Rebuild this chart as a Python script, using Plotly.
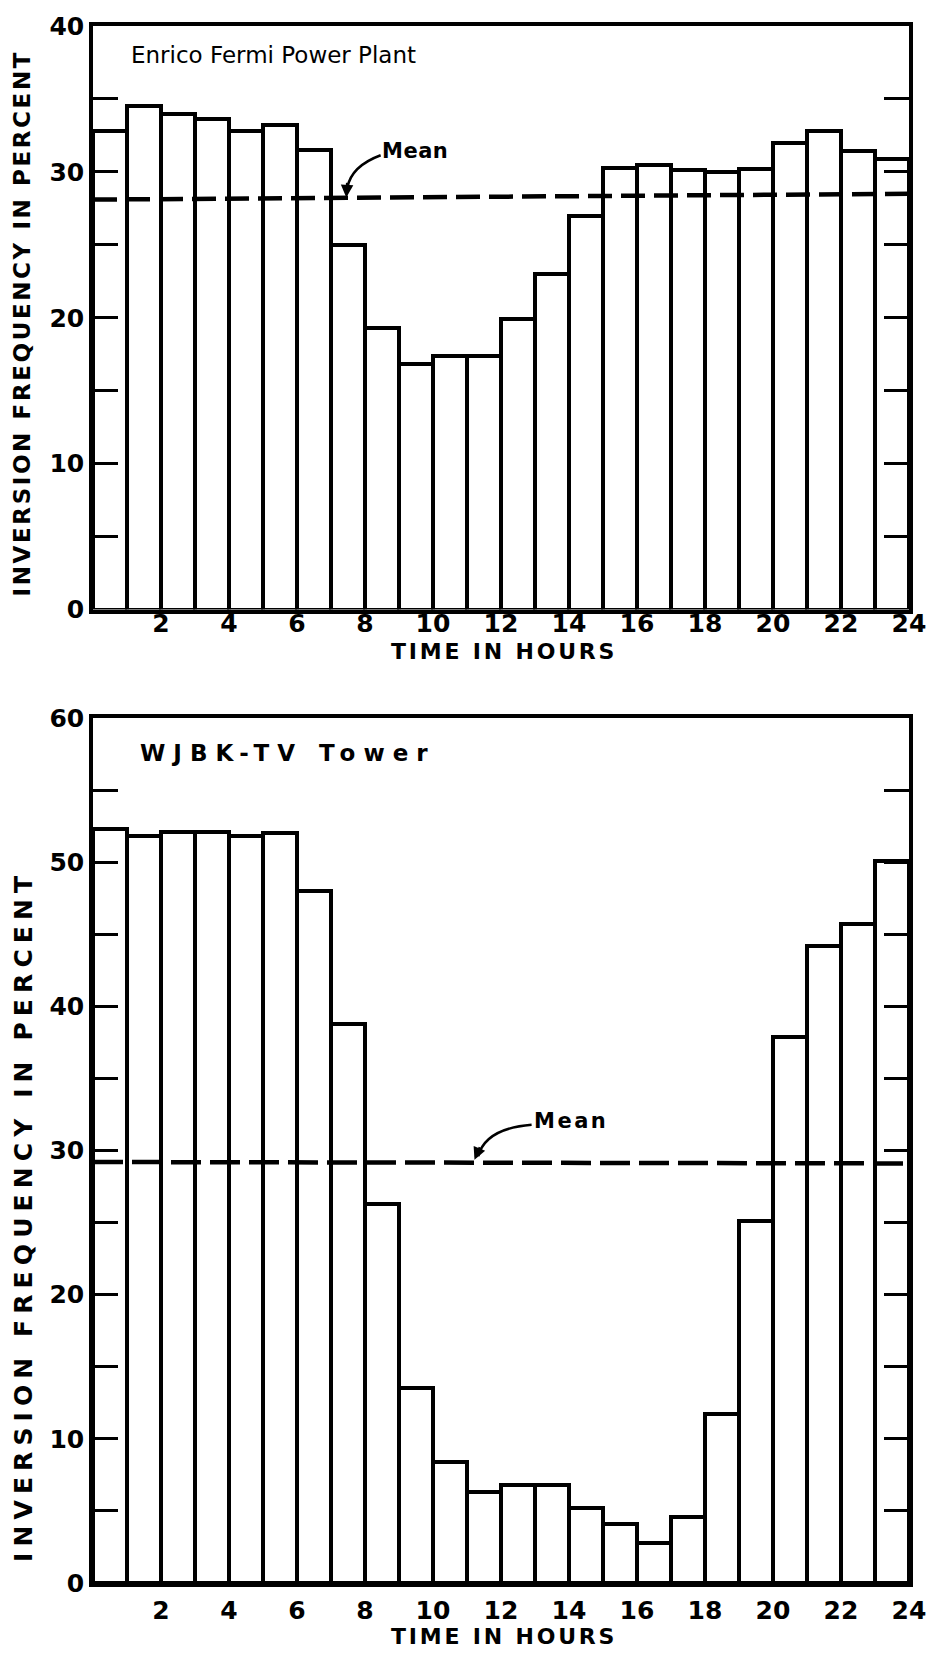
import plotly.graph_objects as go

# ---------------- data ----------------
hours = list(range(24))
fermi_pct = [32.8, 34.5, 34.0, 33.6, 32.8, 33.2, 31.5, 25.0, 19.3, 16.8, 17.4, 17.4,
             19.9, 23.0, 27.0, 30.3, 30.5, 30.1, 30.0, 30.2, 32.0, 32.8, 31.4, 30.9]
wjbk_pct = [52.3, 51.8, 52.1, 52.1, 51.8, 52.0, 48.0, 38.8, 26.3, 13.5, 8.4, 6.3,
            6.8, 6.8, 5.2, 4.1, 2.8, 4.6, 11.7, 25.1, 37.9, 44.2, 45.7, 50.1]
mean_hours = [0, 24]
fermi_mean = [28.1, 28.5]
wjbk_mean = [29.2, 29.1]
x_tickvals = [2, 4, 6, 8, 10, 12, 14, 16, 18, 20, 22, 24]
x_ticktext = ["2", "4", "6", "8", "10", "12", "14", "16", "18", "20", "22", "24"]
fermi_yticks = [0, 5, 10, 15, 20, 25, 30, 35, 40]
fermi_ylabels = ["0", "", "10", "", "20", "", "30", "", "40"]
wjbk_yticks = [0, 5, 10, 15, 20, 25, 30, 35, 40, 45, 50, 55, 60]
wjbk_ylabels = ["0", "", "10", "", "20", "", "30", "", "40", "", "50", "", "60"]
fermi_title = "Enrico Fermi Power Plant"
wjbk_title = "WJBK-TV Tower"
x_title = "TIME IN HOURS"
y_title = "INVERSION FREQUENCY IN PERCENT"
mean_label = "Mean"

FONT = "DejaVu Sans"
BLACK = "black"


def spaced(text, px):
    return '<span style="letter-spacing:%spx">%s</span>' % (px, text)


def bold(size):
    return dict(family=FONT, size=size, color=BLACK, weight="bold")


fig = go.Figure()

bar_x = [h + 0.5 for h in hours]
fig.add_trace(go.Bar(x=bar_x, y=fermi_pct, width=1, xaxis="x", yaxis="y",
                     marker=dict(color="white", line=dict(color=BLACK, width=4)),
                     showlegend=False, hoverinfo="skip"))
fig.add_trace(go.Scatter(x=mean_hours, y=fermi_mean, mode="lines", xaxis="x", yaxis="y",
                         line=dict(color=BLACK, width=4.5, dash="24px,9px"),
                         showlegend=False, hoverinfo="skip"))
fig.add_trace(go.Bar(x=bar_x, y=wjbk_pct, width=1, xaxis="x2", yaxis="y2",
                     marker=dict(color="white", line=dict(color=BLACK, width=4)),
                     showlegend=False, hoverinfo="skip"))
fig.add_trace(go.Scatter(x=mean_hours, y=wjbk_mean, mode="lines", xaxis="x2", yaxis="y2",
                         line=dict(color=BLACK, width=4.5, dash="30px,9px"),
                         showlegend=False, hoverinfo="skip"))

tickfont = bold(25)

common_x = dict(range=[0, 24], showline=True, linecolor=BLACK, linewidth=3.5, mirror=True,
                ticks="", tickvals=x_tickvals, ticktext=x_ticktext, tickfont=tickfont,
                ticklabeloverflow="allow",
                showgrid=False, zeroline=False, fixedrange=True)
common_y = dict(showline=True, linecolor=BLACK, linewidth=3.5, mirror="ticks",
                ticks="inside", ticklen=25, tickwidth=2.5, tickcolor=BLACK,
                tickfont=tickfont, showgrid=False, zeroline=False, fixedrange=True)

fig.update_layout(
    width=938, height=1653,
    margin=dict(l=93, r=17, t=17, b=70),
    paper_bgcolor="white", plot_bgcolor="white",
    bargap=0,
    xaxis=dict(common_x, domain=[0, 1], anchor="y", ticklabelstandoff=-11),
    yaxis=dict(common_y, domain=[0.6252, 1], anchor="x", range=[0, 40],
               tickvals=fermi_yticks, ticktext=fermi_ylabels),
    xaxis2=dict(common_x, domain=[0, 1], anchor="y2", ticklabelstandoff=2),
    yaxis2=dict(common_y, domain=[0, 0.5556], anchor="x2", range=[0, 60],
                tickvals=wjbk_yticks, ticktext=wjbk_ylabels),
)

# axis titles (placed as annotations)
fig.add_annotation(x=12.1, y=0.5985, xref="x", yref="paper", text=spaced(x_title, 2.8),
                   showarrow=False, font=bold(22), yanchor="middle")
fig.add_annotation(x=12.1, y=-0.0345, xref="x2", yref="paper", text=spaced(x_title, 2.8),
                   showarrow=False, font=bold(22), yanchor="middle")
fig.add_annotation(x=-0.087, y=0.809, xref="paper", yref="paper", text=spaced(y_title, 2.6),
                   showarrow=False, textangle=-90, font=bold(23),
                   xanchor="center", yanchor="middle")
fig.add_annotation(x=-0.086, y=0.2356, xref="paper", yref="paper", text=spaced(y_title, 6.1),
                   showarrow=False, textangle=-90, font=bold(25),
                   xanchor="center", yanchor="middle")

# panel titles
fig.add_annotation(x=1.05, y=38.0, xref="x", yref="y", text=fermi_title,
                   showarrow=False, xanchor="left", yanchor="middle",
                   font=dict(family=FONT, size=23, color=BLACK))
fig.add_annotation(x=1.33, y=57.6, xref="x2", yref="y2", text=spaced(wjbk_title, 8),
                   showarrow=False, xanchor="left", yanchor="middle", font=bold(23))

# "Mean" labels with curved pointers
fig.add_annotation(x=9.48, y=31.45, xref="x", yref="y", text=spaced(mean_label, 0.5),
                   showarrow=False, font=bold(21))
fig.add_annotation(x=14.05, y=32.07, xref="x2", yref="y2", text=spaced(mean_label, 2.5),
                   showarrow=False, font=bold(21))

fig.add_shape(type="path", xref="x", yref="y",
              path="M 8.46,31.14 Q 7.59,30.39 7.48,28.9",
              line=dict(color=BLACK, width=2.5))
fig.add_annotation(x=7.45, y=28.25, xref="x", yref="y", text="",
                   showarrow=True, ax=1, ay=-16, arrowhead=2, arrowsize=1,
                   arrowwidth=2.5, arrowcolor=BLACK)
fig.add_shape(type="path", xref="x2", yref="y2",
              path="M 12.90,31.79 Q 11.54,31.52 11.33,29.6",
              line=dict(color=BLACK, width=2.5))
fig.add_annotation(x=11.22, y=29.35, xref="x2", yref="y2", text="",
                   showarrow=True, ax=6, ay=-14, arrowhead=2, arrowsize=1,
                   arrowwidth=2.5, arrowcolor=BLACK)

fig.write_html("out.html")
